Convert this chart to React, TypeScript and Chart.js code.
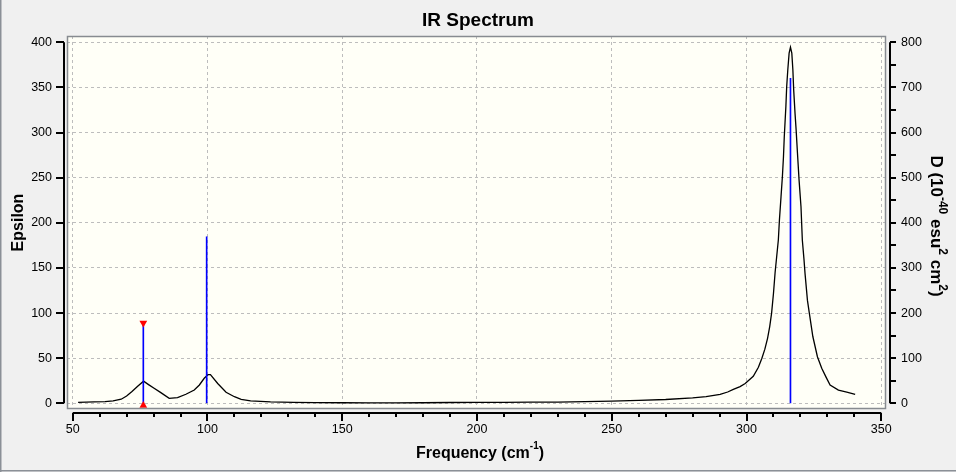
import { useEffect, useRef } from 'react';
import { Chart, registerables } from 'chart.js';

Chart.register(...registerables);

// broadened spectrum (left axis, epsilon)
const freq = [
  52, 58, 62, 65, 68, 70, 72, 74, 76.3, 78, 80.2, 82.7, 85.8, 88.9, 92, 95.1, 97, 98.8, 100.2, 101.1,
  103.8, 106.9, 110, 112.5, 116, 123.4, 132, 140, 150, 160, 170, 180, 190, 200, 210, 220, 230, 240,
  250, 260, 270, 280, 285, 290.2, 293, 295.1, 297.6, 299.5, 302.5, 304.4, 305.7, 306.8, 307.8, 308.6,
  309.3, 310, 310.6, 311.2, 311.8, 312.2, 312.8, 313.3, 313.7, 314, 314.6, 314.9, 315.3, 315.8, 316.3,
  316.8, 317.2, 317.5, 318, 318.4, 318.9, 319.5, 320.2, 320.7, 321.3, 321.7, 322.6, 323.3, 324.6,
  326.3, 327.9, 329.5, 331, 334.1, 337.2, 340.3,
];
const epsilon = [
  1.1, 1.5, 1.9, 2.6, 4.5, 8, 13, 18.5, 24.5, 21, 16.6, 11.8, 5.5, 6.2, 10, 14.7, 20.3, 27.7, 31.7, 31.7,
  22, 12.2, 7.3, 4.4, 2.6, 1.6, 1.1, 0.8, 0.6, 0.5, 0.5, 0.6, 0.9, 1.0, 1.1, 1.2, 1.4, 1.9,
  2.4, 3.2, 4.2, 6, 7.5, 9.8, 12.5, 15.5, 18.5, 22, 30, 40, 50, 60, 72, 85,
  100, 122, 145, 163, 181, 203, 229, 251, 273, 295, 329, 351, 369, 388, 394.5,
  388, 369, 347, 321, 303, 277, 247, 218, 181, 160, 144, 114, 100, 74,
  51.6, 38.8, 29, 20.3, 14.7, 12.5, 10,
];

// stick spectrum (right axis, D)
const stickFreq = [76.2, 99.7, 316.3];
const stickD = [178, 369, 720];

// selected mode markers
const markerFreq = [76.2, 76.2];
const markerD = [178, -5];
const markerRotation = [180, 0];

const xTicks = [50, 100, 150, 200, 250, 300, 350];
const xMinorTicks = [
  60, 70, 80, 90, 110, 120, 130, 140, 160, 170, 180, 190, 210, 220, 230, 240, 260, 270, 280, 290,
  310, 320, 330, 340,
];
const epsTicks = [0, 50, 100, 150, 200, 250, 300, 350, 400];
const dTicks = [0, 100, 200, 300, 400, 500, 600, 700, 800];
const dMinorTicks = [50, 150, 250, 350, 450, 550, 650, 750];

const FONT = '"Liberation Sans", Arial, sans-serif';

type Part = { text: string; sup?: boolean };

const drawRich = (
  ctx: CanvasRenderingContext2D,
  parts: Part[],
  x: number,
  y: number,
  rot: number,
  size = 16,
  supSize = 10,
  raise = 9,
) => {
  const main = `bold ${size}px ${FONT}`;
  const small = `bold ${supSize}px ${FONT}`;
  let total = 0;
  const widths = parts.map((p) => {
    ctx.font = p.sup ? small : main;
    const w = ctx.measureText(p.text).width;
    total += w;
    return w;
  });
  ctx.save();
  ctx.translate(x, y);
  ctx.rotate(rot);
  ctx.fillStyle = '#000';
  ctx.textAlign = 'left';
  ctx.textBaseline = 'alphabetic';
  let cur = -total / 2;
  parts.forEach((p, i) => {
    ctx.font = p.sup ? small : main;
    ctx.fillText(p.text, cur, p.sup ? -raise : 0);
    cur += widths[i];
  });
  ctx.restore();
};

const decorPlugin = {
  id: 'decor',
  beforeDraw(chart: any) {
    const { ctx, chartArea: a, width, height } = chart;
    ctx.save();
    ctx.fillStyle = '#f0f0f0';
    ctx.fillRect(0, 0, width, height);
    ctx.fillStyle = '#8b9097';
    ctx.fillRect(0, 0, 1.5, height);
    ctx.fillRect(0, height - 2, width, 1.5);
    ctx.fillStyle = '#fffff7';
    ctx.fillRect(a.left, a.top, a.right - a.left, a.bottom - a.top);
    ctx.restore();
  },
  afterDraw(chart: any) {
    const { ctx, chartArea: a, scales } = chart;
    const x = scales.x;
    const y = scales.y;
    const y2 = scales.y2;
    ctx.save();
    // plot frame
    ctx.strokeStyle = '#878b90';
    ctx.lineWidth = 1.5;
    ctx.strokeRect(a.left + 0.5, a.top + 0.5, a.right - a.left - 1, a.bottom - a.top - 1);

    ctx.strokeStyle = '#000';
    ctx.lineWidth = 2;
    ctx.beginPath();
    // left axis
    const lx = a.left - 3;
    ctx.moveTo(lx, y.getPixelForValue(epsTicks[0]));
    ctx.lineTo(lx, y.getPixelForValue(epsTicks[epsTicks.length - 1]));
    epsTicks.forEach((v) => {
      const p = Math.round(y.getPixelForValue(v));
      ctx.moveTo(lx - 8, p);
      ctx.lineTo(lx, p);
    });
    // bottom axis
    const by = a.bottom + 4;
    ctx.moveTo(x.getPixelForValue(xTicks[0]), by);
    ctx.lineTo(x.getPixelForValue(xTicks[xTicks.length - 1]), by);
    xTicks.forEach((v) => {
      const p = Math.round(x.getPixelForValue(v));
      ctx.moveTo(p, by);
      ctx.lineTo(p, by + 8);
    });
    xMinorTicks.forEach((v) => {
      const p = Math.round(x.getPixelForValue(v));
      ctx.moveTo(p, by);
      ctx.lineTo(p, by + 4);
    });
    // right axis
    const rx = a.right + 4;
    ctx.moveTo(rx, y2.getPixelForValue(dTicks[0]));
    ctx.lineTo(rx, y2.getPixelForValue(dTicks[dTicks.length - 1]));
    [...dTicks, ...dMinorTicks].forEach((v) => {
      const p = Math.round(y2.getPixelForValue(v));
      ctx.moveTo(rx, p);
      ctx.lineTo(rx + 6, p);
    });
    ctx.stroke();

    // titles
    ctx.fillStyle = '#000';
    ctx.font = `bold 19px ${FONT}`;
    ctx.textAlign = 'center';
    ctx.textBaseline = 'alphabetic';
    ctx.fillText('IR Spectrum', 478, 26);

    drawRich(ctx, [{ text: 'Frequency (cm' }, { text: '-1', sup: true }, { text: ')' }], 480, 458, 0);
    drawRich(ctx, [{ text: 'Epsilon' }], 22.5, 222.5, -Math.PI / 2);
    drawRich(
      ctx,
      [
        { text: 'D (10' },
        { text: '-40', sup: true },
        { text: ' esu' },
        { text: '2', sup: true },
        { text: ' cm' },
        { text: '2', sup: true },
        { text: ')' },
      ],
      931,
      226,
      Math.PI / 2,
      17,
      12,
      8,
    );
    ctx.restore();
  },
};

const tickFont = { family: FONT, size: 12.5 };

const App = () => {
  const canvasRef = useRef<HTMLCanvasElement | null>(null);
  const chartRef = useRef<Chart | null>(null);

  useEffect(() => {
    document.body.style.margin = '0';
    if (!canvasRef.current) return;
    if (chartRef.current) chartRef.current.destroy();

    chartRef.current = new Chart(canvasRef.current, {
      type: 'line',
      data: {
        datasets: [
          {
            type: 'scatter',
            label: 'markers',
            data: markerFreq.map((f, i) => ({ x: f, y: markerD[i] })),
            yAxisID: 'y2',
            pointStyle: 'triangle',
            pointRadius: 4.5,
            pointRotation: markerRotation,
            backgroundColor: '#ff0000',
            borderColor: '#ff0000',
            borderWidth: 0,
            order: 0,
          } as any,
          {
            type: 'bar',
            label: 'sticks',
            data: stickFreq.map((f, i) => ({ x: f, y: stickD[i] })),
            yAxisID: 'y2',
            backgroundColor: '#0000ff',
            barThickness: 1,
            borderWidth: 0,
            order: 1,
          } as any,
          {
            type: 'line',
            label: 'spectrum',
            data: freq.map((f, i) => ({ x: f, y: epsilon[i] })),
            yAxisID: 'y',
            borderColor: '#000',
            borderWidth: 1.3,
            pointRadius: 0,
            tension: 0,
            fill: false,
            order: 2,
          },
        ],
      },
      options: {
        animation: false,
        responsive: false,
        devicePixelRatio: 1,
        layout: { padding: { top: 36, left: 0, right: 0, bottom: 0 } },
        plugins: { legend: { display: false }, tooltip: { enabled: false }, title: { display: false } },
        scales: {
          x: {
            type: 'linear',
            position: 'bottom',
            min: 47.885,
            max: 351.744,
            offset: false,
            afterBuildTicks: (s: any) => {
              s.ticks = xTicks.map((v) => ({ value: v }));
            },
            afterFit: (s: any) => {
              s.height = 63;
            },
            grid: { color: '#bdbdbd', lineWidth: 1, drawTicks: false, offset: false },
            border: { display: false, dash: [3, 3] },
            ticks: { color: '#000', font: tickFont, padding: 13, maxRotation: 0, autoSkip: false },
          },
          y: {
            type: 'linear',
            position: 'left',
            min: -6.316,
            max: 406.98,
            afterBuildTicks: (s: any) => {
              s.ticks = epsTicks.map((v) => ({ value: v }));
            },
            afterFit: (s: any) => {
              s.width = 67;
            },
            grid: { color: '#bdbdbd', lineWidth: 1, drawTicks: false },
            border: { display: false, dash: [3, 3] },
            ticks: { color: '#000', font: tickFont, padding: 15, autoSkip: false },
          },
          y2: {
            type: 'linear',
            position: 'right',
            min: -12.63,
            max: 813.96,
            afterBuildTicks: (s: any) => {
              s.ticks = dTicks.map((v) => ({ value: v }));
            },
            afterFit: (s: any) => {
              s.width = 70;
            },
            grid: { drawOnChartArea: false, drawTicks: false },
            border: { display: false },
            ticks: { color: '#000', font: tickFont, padding: 15, autoSkip: false },
          },
        },
      } as any,
      plugins: [decorPlugin],
    });

    return () => {
      if (chartRef.current) {
        chartRef.current.destroy();
        chartRef.current = null;
      }
    };
  }, []);

  return (
    <div style={{ width: 956, height: 472 }}>
      <canvas ref={canvasRef} width={956} height={472}></canvas>
    </div>
  );
};

export default App;
